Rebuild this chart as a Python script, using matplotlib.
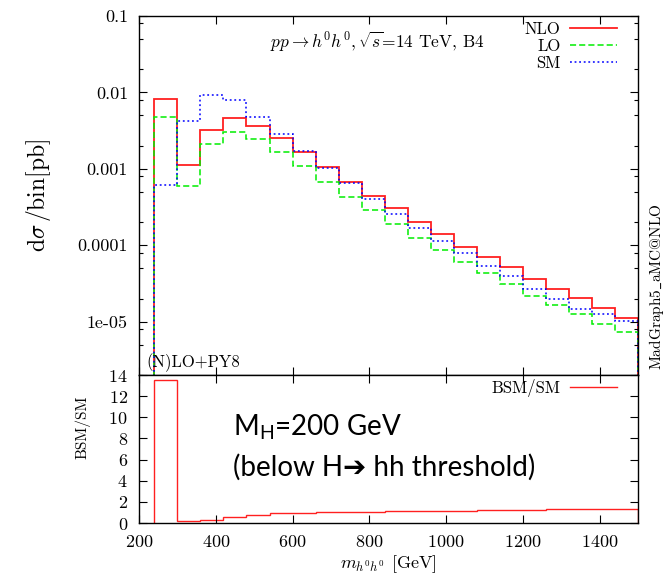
import numpy as np
import matplotlib.pyplot as plt
from matplotlib.lines import Line2D
from matplotlib.ticker import LogLocator, NullFormatter, MultipleLocator

plt.rcParams['font.family'] = 'serif'
plt.rcParams['font.serif'] = ['cmr10']
plt.rcParams['mathtext.fontset'] = 'cm'
plt.rcParams['mathtext.rm'] = 'Lato'
plt.rcParams['axes.unicode_minus'] = False
plt.rcParams['axes.formatter.use_mathtext'] = True

# bin edges of m_hh [GeV]
edges = [240, 300, 360, 420, 480, 540, 600, 660, 720, 780, 840, 900, 960,
         1020, 1080, 1140, 1200, 1260, 1320, 1380, 1440, 1500]

# dsigma/bin [pb]
nlo = [0.00826, 0.00113, 0.0032, 0.00465, 0.00365, 0.00254, 0.00168, 0.00106,
       0.000668, 0.000441, 0.000307, 0.000199, 0.000141, 9.5e-5, 6.95e-5,
       5.14e-5, 3.65e-5, 2.67e-5, 2.03e-5, 1.5e-5, 1.11e-5]
lo = [0.00483, 0.000597, 0.00211, 0.00307, 0.00244, 0.00166, 0.00109, 0.000675,
      0.000433, 0.000286, 0.00019, 0.000125, 8.7e-5, 6.1e-5, 4.33e-5,
      3.1e-5, 2.18e-5, 1.66e-5, 1.25e-5, 9.4e-6, 7.2e-6]
sm = [0.00061, 0.00425, 0.0093, 0.00785, 0.00483, 0.00289, 0.00171, 0.00103,
      0.000643, 0.000408, 0.000259, 0.000169, 0.000114, 7.8e-5, 5.4e-5,
      3.9e-5, 2.67e-5, 2.0e-5, 1.45e-5, 1.25e-5, 1.03e-5]

# BSM/SM ratio
ratio = [13.5, 0.2, 0.28, 0.6, 0.76, 0.92, 0.98, 1.01, 1.04, 1.07, 1.09,
         1.12, 1.15, 1.18, 1.21, 1.24, 1.27, 1.33, 1.36, 1.34, 1.36]

ytick_vals = [1e-5, 1e-4, 1e-3, 1e-2, 1e-1]
ytick_labels = ['1e-05', '0.0001', '0.001', '0.01', '0.1']

W, H = 671, 577
fig = plt.figure(figsize=(W / 100, H / 100), dpi=100)
ax = fig.add_axes([139 / W, (H - 375) / H, 499 / W, 359 / H])
ax2 = fig.add_axes([139 / W, (H - 523) / H, 499 / W, 148 / H], sharex=ax)

ax.stairs(nlo, edges, baseline=1e-9, color='#ff2020', lw=1.3)
ax.stairs(lo, edges, baseline=1e-9, color='#00ee00', lw=1.1, ls=(0, (4, 2)))
ax.stairs(sm, edges, baseline=1e-9, color='#0000ff', lw=1.1, ls=(0, (1.2, 1.8)))

ax.set_yscale('log')
ax.set_ylim(2e-6, 0.1)
ax.set_xlim(200, 1500)
ax.set_yticks(ytick_vals, ytick_labels)
ax.yaxis.set_minor_locator(LogLocator(base=10, subs=[2, 5, 8]))
ax.yaxis.set_minor_formatter(NullFormatter())
ax.set_xticks([200, 400, 600, 800, 1000, 1200, 1400])
ax.tick_params(which='both', direction='in', top=True, right=True,
               labelsize=13, pad=8, labelbottom=False)
ax.tick_params(which='major', length=5.5, width=0.8)
ax.tick_params(which='minor', length=3, width=0.8)
ax.set_ylabel(r'$\mathrm{d}\sigma\,/\mathrm{bin[pb]}$', fontsize=17)
ax.yaxis.set_label_coords(-0.172, 0.5)

handles = [Line2D([], [], color='#ff2020', lw=1.3),
           Line2D([], [], color='#00ee00', lw=1.1, ls=(0, (4, 2))),
           Line2D([], [], color='#0000ff', lw=1.1, ls=(0, (1.2, 1.8)))]
ax.legend(handles, ['NLO', 'LO', 'SM'], loc='upper right', markerfirst=False,
          frameon=False, fontsize=12, handlelength=2.8, handletextpad=0.6,
          labelspacing=0.1, borderpad=0, borderaxespad=0,
          bbox_to_anchor=(0.958, 0.985))

ax.text(0.477, 0.928, r'$pp\rightarrow h^0h^0, \sqrt{s}$=14 TeV, B4',
        transform=ax.transAxes, ha='center', va='center', fontsize=12.5)
ax.text(0.015, 0.035, '(N)LO+PY8', transform=ax.transAxes,
        ha='left', va='center', fontsize=12)

ax2.stairs(ratio, edges, baseline=0, color='#ff2020', lw=1.0)
ax2.set_ylim(0, 14)
ax2.yaxis.set_major_locator(MultipleLocator(2))
ax2.tick_params(which='both', direction='in', top=True, right=True,
                labelsize=13, pad=8, length=5.5, width=0.8)
ax2.set_ylabel('BSM/SM', fontsize=11)
ax2.yaxis.set_label_coords(-0.098, 0.65)
ax2.set_xlabel(r'$m_{h^0h^0}$ [GeV]', fontsize=13, labelpad=2)
ax2.legend([Line2D([], [], color='#ff2020', lw=1.0)], ['BSM/SM'],
           loc='upper right', markerfirst=False, frameon=False, fontsize=12,
           handlelength=2.8, handletextpad=0.6, borderpad=0, borderaxespad=0,
           bbox_to_anchor=(0.958, 0.975))

ax2.text(0.188, 0.649, r'M$_\mathrm{H}$=200 GeV', transform=ax2.transAxes,
         ha='left', va='center', fontsize=20, family=['Lato', 'DejaVu Sans'],
         math_fontfamily='custom')
ax2.text(0.188, 0.378, '(below H\u2794 hh threshold)', transform=ax2.transAxes,
         ha='left', va='center', fontsize=20, family=['Lato', 'DejaVu Sans'])

for a in (ax, ax2):
    for s in a.spines.values():
        s.set_linewidth(1.0)

fig.text(657 / W, 1 - 287 / H, r'MadGraph5$\_$aMC@NLO', rotation=90,
         ha='center', va='center', fontsize=11)

fig.savefig('out.png', dpi=100)
